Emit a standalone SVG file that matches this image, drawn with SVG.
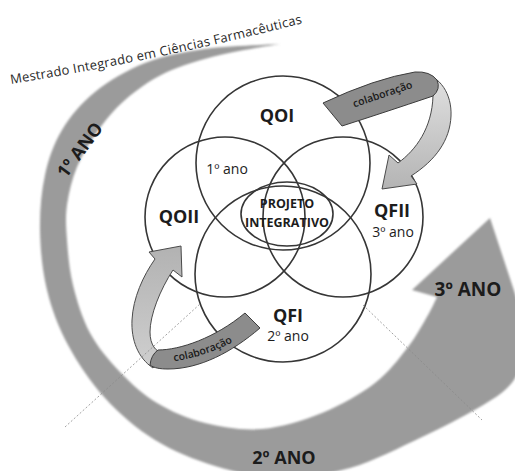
<svg xmlns="http://www.w3.org/2000/svg" width="515" height="471" viewBox="0 0 515 471">
<defs>
<style>
.ring{fill:none;stroke:#363636;stroke-width:1.6}
.lbl{font-family:"Open Sans","Liberation Sans",sans-serif;font-weight:700;font-size:18px;fill:#1c1c1c;text-anchor:middle}
.yr{font-family:"Open Sans","Liberation Sans",sans-serif;font-size:14px;fill:#1c1c1c;text-anchor:middle}
.pi{font-family:"Open Sans","Liberation Sans",sans-serif;font-weight:700;font-size:12.5px;fill:#1c1c1c;text-anchor:middle}
.ano{font-family:"Open Sans","Liberation Sans",sans-serif;font-weight:700;font-size:18px;fill:#1c1c1c;text-anchor:middle}
.col{font-family:"Open Sans","Liberation Sans",sans-serif;font-weight:600;font-size:10.5px;fill:#1a1a1a}
.dark{fill:#8c8c8c;stroke:#3c3c3c;stroke-width:1}
.light{stroke:#4a4a4a;stroke-width:1}
.dot{stroke:#8a8a8a;stroke-width:0.8;stroke-dasharray:2 2;fill:none}
</style>
<filter id="soft" x="-5%" y="-5%" width="110%" height="110%"><feGaussianBlur stdDeviation="0.9"/></filter>
<linearGradient id="gTR" x1="0" y1="0" x2="0" y2="1"><stop offset="0" stop-color="#e2e2e2"/><stop offset="1" stop-color="#b4b4b4"/></linearGradient>
<linearGradient id="gBL" x1="0" y1="1" x2="0" y2="0"><stop offset="0" stop-color="#cfcfcf"/><stop offset="1" stop-color="#b2b2b2"/></linearGradient>
<path id="pTitle" d="M11,84 Q160,60 311,21"/>
<path id="pTR" d="M338,113 Q382,98 430,82"/>
<path id="pBL" d="M168,362 Q205,358 238,339"/>
</defs>
<rect width="515" height="471" fill="#ffffff"/>

<g id="cycle-arrow">
<path filter="url(#soft)" fill="#9b9b9b" d="M280,44 C267.5,44.8 227.5,45.8 205,49 C182.5,52.2 163.3,55.8 145,63 C126.7,70.2 108.8,80.8 95,92 C81.2,103.2 70.3,116.2 62,130 C53.7,143.8 48.7,158.3 45,175 C41.3,191.7 39.7,210.8 40,230 C40.3,249.2 42.3,270.8 47,290 C51.7,309.2 58.3,327 68,345 C77.7,363 90.5,382.2 105,398 C119.5,413.8 136.7,428.7 155,440 C173.3,451.3 194.2,459.7 215,466 C235.8,472.3 257.5,477.7 280,478 C302.5,478.3 326.3,474.8 350,468 C373.7,461.2 400.7,447 422,437 C443.3,427 463.3,416.7 478,408 C492.7,399.3 501.7,394.3 510,385 C518.3,375.7 525,357.5 528,352 L532,345 L490,218 L412,290 L437,297 C435.5,300 432.8,306.7 428,315 C423.2,323.3 416.8,335.7 408,347 C399.2,358.3 389.3,372 375,383 C360.7,394 340.8,405.3 322,413 C303.2,420.7 281.5,427.3 262,429 C242.5,430.7 222.5,427.3 205,423 C187.5,418.7 171.2,411.5 157,403 C142.8,394.5 131.2,383.7 120,372 C108.8,360.3 97.8,347.5 90,333 C82.2,318.5 76.8,300.5 73,285 C69.2,269.5 68,253.3 67,240 C66,226.7 65.3,217.2 67,205 C68.7,192.8 72,179.2 77,167 C82,154.8 89,143.2 97,132 C105,120.8 113.7,109.8 125,100 C136.3,90.2 149.2,80.5 165,73 C180.8,65.5 200.8,59.8 220,55 C239.2,50.2 270,45.8 280,44 Z"/>
<text class="ano" transform="translate(80,150) rotate(-53.5)" x="0" y="6">1º ANO</text>
<text class="ano" x="284" y="464">2º ANO</text>
<text class="ano" x="468" y="296" style="font-size:19px">3º ANO</text>
</g>

<g id="title">
<text style="font-family:'Open Sans','Liberation Sans',sans-serif;font-size:13px;fill:#2a2a2a"><textPath href="#pTitle" textLength="298" lengthAdjust="spacing">Mestrado Integrado em Ciências Farmacêuticas</textPath></text>
</g>

<g id="node-QOI">
<circle class="ring" cx="283" cy="163" r="87"/>
<text class="lbl" x="277" y="122">QOI</text>
<text class="yr" x="227" y="174">1º ano</text>
</g>
<g id="node-QOII">
<circle class="ring" cx="225" cy="217" r="80"/>
<text class="lbl" x="179" y="223">QOII</text>
</g>
<g id="node-QFII">
<circle class="ring" cx="343" cy="217" r="80"/>
<text class="lbl" x="392" y="217">QFII</text>
<text class="yr" x="393" y="237">3º ano</text>
</g>
<g id="node-QFI">
<circle class="ring" cx="283" cy="274" r="88"/>
<text class="lbl" x="288" y="322">QFI</text>
<text class="yr" x="288" y="341">2º ano</text>
</g>
<g id="node-PROJETO">
<ellipse class="ring" cx="287" cy="214" rx="46" ry="32"/>
<text class="pi" x="287" y="208">PROJETO</text>
<text class="pi" x="287" y="227">INTEGRATIVO</text>
</g>

<g id="connectors">
<g id="colab-QOI-QFII">
<path class="light" fill="url(#gTR)" d="M422,73 C440,76 452,94 451,116 C450,140 436,160 411,176 L417,184 L382,189 L389,155 L398,163 C416,150 432,128 433,96 Z"/>
<path class="dark" d="M323,103 Q375,78.5 415,72 Q430,71 437,80 Q441,89 433,96 Q382.5,113 342,126 Z"/>
<text class="col"><textPath href="#pTR" startOffset="50%" text-anchor="middle">colaboração</textPath></text>
</g>
<g id="colab-QFI-QOII">
<path class="light" fill="url(#gBL)" d="M155,259 L149,252 L181,246 L182,277 L173,270 C160,290 150,315 150,332 C150,345 156,352 163,353 L153,368 C138,358 131,340 132,320 C133,298 143,276 155,259 Z"/>
<path class="dark" d="M158,350 C180,350 215,338 245,313 L260,328 C232,352 200,369 168,369 C160,369 154,368 150,365 Q151,355 158,350 Z"/>
<text class="col"><textPath href="#pBL" startOffset="50%" text-anchor="middle">colaboração</textPath></text>
</g>
</g>

<g id="guides">
<line class="dot" x1="65" y1="427" x2="200" y2="304"/>
<line class="dot" x1="363" y1="305" x2="482" y2="420"/>
</g>
</svg>
